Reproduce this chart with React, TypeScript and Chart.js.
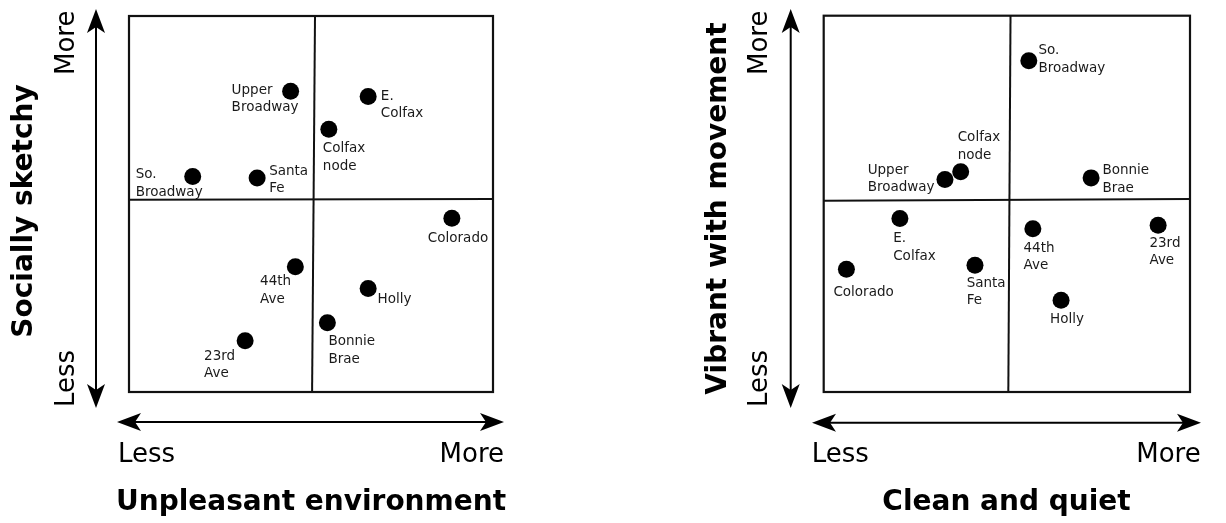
import React, { useEffect, useRef } from "react";
import { Chart, registerables } from "chart.js";

Chart.register(...registerables);

// ---------- data ----------
const endLabels = ["Less", "More"];

const leftXTitle = "Unpleasant environment";
const leftYTitle = "Socially sketchy";
const leftNames = [
  "Upper\nBroadway",
  "E.\nColfax",
  "Colfax\nnode",
  "So.\nBroadway",
  "Santa\nFe",
  "Colorado",
  "44th\nAve",
  "Holly",
  "Bonnie\nBrae",
  "23rd\nAve",
];
const leftX = [4.44, 6.57, 5.49, 1.75, 3.52, 8.87, 4.57, 6.57, 5.45, 3.19];
const leftY = [8.0, 7.86, 6.99, 5.73, 5.69, 4.62, 3.33, 2.75, 1.84, 1.36];
const leftVDivX = [5.11, 5.03];
const leftHDivY = [5.11, 5.13];

const rightXTitle = "Clean and quiet";
const rightYTitle = "Vibrant with movement";
const rightNames = [
  "So.\nBroadway",
  "Colfax\nnode",
  "Upper\nBroadway",
  "Bonnie\nBrae",
  "E.\nColfax",
  "44th\nAve",
  "23rd\nAve",
  "Colorado",
  "Santa\nFe",
  "Holly",
];
const rightX = [5.6, 3.74, 3.31, 7.3, 2.08, 5.71, 9.13, 0.62, 4.13, 6.48];
const rightY = [8.8, 5.85, 5.65, 5.69, 4.61, 4.34, 4.43, 3.26, 3.37, 2.44];
const rightVDivX = [5.1, 5.04];
const rightHDivY = [5.08, 5.13];

// ---------- styling / placement ----------
const leftLabelOffsets = [
  [-59, -1],
  [12.7, 0],
  [-6, 19.7],
  [-57, -1.7],
  [12, -6.7],
  [-24, 20],
  [-35.3, 15],
  [9.4, 10.6],
  [1, 19],
  [-41, 15.3],
];
const rightLabelOffsets = [
  [9.6, -10],
  [-3, -34],
  [-77.3, -9.3],
  [11.3, -7.3],
  [-6.7, 20],
  [-9.4, 19.6],
  [-8.7, 18],
  [-13, 23],
  [-8.3, 18.3],
  [-11, 19],
];

const FONT = "'DejaVu Sans', Verdana, sans-serif";

type PanelLayout = {
  canvasLeft: number;
  padding: { left: number; top: number; right: number; bottom: number };
  vArrowX: number;
  vArrowTop: number;
  vArrowBottom: number;
  hArrowY: number;
  hArrowLeft: number;
  hArrowRight: number;
  rotLabelBaseX: number;
  rotMoreStartY: number;
  rotLessStartY: number;
  lessLeftX: number;
  moreRightX: number;
  endBaseY: number;
  xTitleX: number;
  xTitleBaseY: number;
  yTitleBaseX: number;
  yTitleY: number;
};

const leftLayout: PanelLayout = {
  canvasLeft: 0,
  padding: { left: 129, top: 16, right: 120, bottom: 131 },
  vArrowX: 96,
  vArrowTop: 9,
  vArrowBottom: 408,
  hArrowY: 422,
  hArrowLeft: 117,
  hArrowRight: 504,
  rotLabelBaseX: 74,
  rotMoreStartY: 75,
  rotLessStartY: 407,
  lessLeftX: 118,
  moreRightX: 504,
  endBaseY: 462,
  xTitleX: 311,
  xTitleBaseY: 510,
  yTitleBaseX: 32,
  yTitleY: 211,
};

const rightLayout: PanelLayout = {
  canvasLeft: 613,
  padding: { left: 210.7, top: 15.7, right: 36, bottom: 131 },
  vArrowX: 177.7,
  vArrowTop: 9,
  vArrowBottom: 408,
  hArrowY: 422.7,
  hArrowLeft: 199,
  hArrowRight: 588,
  rotLabelBaseX: 154,
  rotMoreStartY: 75,
  rotLessStartY: 407,
  lessLeftX: 198.7,
  moreRightX: 587.7,
  endBaseY: 462,
  xTitleX: 393.5,
  xTitleBaseY: 510,
  yTitleBaseX: 113,
  yTitleY: 208.5,
};

function arrowHead(
  ctx: CanvasRenderingContext2D,
  tx: number,
  ty: number,
  dx: number,
  dy: number
) {
  const len = 24;
  const halfW = 9;
  const notch = 6;
  const bx = tx - dx * len;
  const by = ty - dy * len;
  const px = -dy;
  const py = dx;
  ctx.beginPath();
  ctx.moveTo(tx, ty);
  ctx.lineTo(bx + px * halfW, by + py * halfW);
  ctx.lineTo(tx - dx * (len - notch), ty - dy * (len - notch));
  ctx.lineTo(bx - px * halfW, by - py * halfW);
  ctx.closePath();
  ctx.fill();
}

function makeDecor(
  layout: PanelLayout,
  names: string[],
  offsets: number[][],
  xTitle: string,
  yTitle: string
) {
  return {
    id: "quadDecor",
    beforeDatasetsDraw(chart: any) {
      const ctx: CanvasRenderingContext2D = chart.ctx;
      const a = chart.chartArea;
      ctx.save();
      ctx.strokeStyle = "#111";
      ctx.lineWidth = 2.2;
      ctx.strokeRect(a.left, a.top, a.right - a.left, a.bottom - a.top);
      ctx.restore();
    },
    afterDatasetsDraw(chart: any) {
      const ctx: CanvasRenderingContext2D = chart.ctx;
      ctx.save();
      // point labels
      ctx.fillStyle = "#1a1a1a";
      ctx.font = `13.5px ${FONT}`;
      ctx.textAlign = "left";
      ctx.textBaseline = "middle";
      const meta = chart.getDatasetMeta(0);
      meta.data.forEach((el: any, i: number) => {
        const lines = names[i].split("\n");
        const [ox, oy] = offsets[i];
        lines.forEach((ln, k) => {
          ctx.fillText(ln, el.x + ox, el.y + oy + k * 17.5);
        });
      });

      // arrows
      ctx.strokeStyle = "#000";
      ctx.fillStyle = "#000";
      ctx.lineWidth = 2;
      ctx.beginPath();
      ctx.moveTo(layout.vArrowX, layout.vArrowTop + 18);
      ctx.lineTo(layout.vArrowX, layout.vArrowBottom - 18);
      ctx.stroke();
      arrowHead(ctx, layout.vArrowX, layout.vArrowTop, 0, -1);
      arrowHead(ctx, layout.vArrowX, layout.vArrowBottom, 0, 1);
      ctx.beginPath();
      ctx.moveTo(layout.hArrowLeft + 18, layout.hArrowY);
      ctx.lineTo(layout.hArrowRight - 18, layout.hArrowY);
      ctx.stroke();
      arrowHead(ctx, layout.hArrowLeft, layout.hArrowY, -1, 0);
      arrowHead(ctx, layout.hArrowRight, layout.hArrowY, 1, 0);

      // end labels
      ctx.fillStyle = "#000";
      ctx.font = `26px ${FONT}`;
      ctx.textBaseline = "alphabetic";
      ctx.textAlign = "left";
      ctx.fillText(endLabels[0], layout.lessLeftX, layout.endBaseY);
      ctx.textAlign = "right";
      ctx.fillText(endLabels[1], layout.moreRightX, layout.endBaseY);

      ctx.save();
      ctx.translate(layout.rotLabelBaseX, layout.rotMoreStartY);
      ctx.rotate(-Math.PI / 2);
      ctx.textAlign = "left";
      ctx.fillText(endLabels[1], 0, 0);
      ctx.restore();
      ctx.save();
      ctx.translate(layout.rotLabelBaseX, layout.rotLessStartY);
      ctx.rotate(-Math.PI / 2);
      ctx.textAlign = "left";
      ctx.fillText(endLabels[0], 0, 0);
      ctx.restore();

      // titles
      ctx.font = `bold 28px ${FONT}`;
      ctx.textAlign = "center";
      ctx.fillText(xTitle, layout.xTitleX, layout.xTitleBaseY);
      ctx.save();
      ctx.translate(layout.yTitleBaseX, layout.yTitleY);
      ctx.rotate(-Math.PI / 2);
      ctx.textAlign = "center";
      ctx.fillText(yTitle, 0, 0);
      ctx.restore();

      ctx.restore();
    },
  };
}

type PanelProps = {
  layout: PanelLayout;
  xs: number[];
  ys: number[];
  names: string[];
  offsets: number[][];
  vDivX: number[];
  hDivY: number[];
  xTitle: string;
  yTitle: string;
};

function Panel(props: PanelProps) {
  const ref = useRef<HTMLCanvasElement | null>(null);
  useEffect(() => {
    if (!ref.current) return;
    const { layout, xs, ys, names, offsets, vDivX, hDivY, xTitle, yTitle } = props;
    const points = xs.map((x, i) => ({ x, y: ys[i] }));
    const chart = new Chart(ref.current, {
      type: "scatter",
      data: {
        datasets: [
          {
            data: points,
            pointRadius: 8.5,
            pointHoverRadius: 8.5,
            backgroundColor: "#000",
            borderColor: "#000",
            borderWidth: 0,
            clip: false,
          } as any,
          {
            type: "line",
            data: [
              { x: vDivX[0], y: 10 },
              { x: vDivX[1], y: 0 },
            ],
            borderColor: "#111",
            borderWidth: 2,
            pointRadius: 0,
            showLine: true,
            fill: false,
            clip: false,
          } as any,
          {
            type: "line",
            data: [
              { x: 0, y: hDivY[0] },
              { x: 10, y: hDivY[1] },
            ],
            borderColor: "#111",
            borderWidth: 2,
            pointRadius: 0,
            showLine: true,
            fill: false,
            clip: false,
          } as any,
        ],
      },
      options: {
        animation: false,
        responsive: false,
        events: [],
        layout: { padding: layout.padding, autoPadding: false } as any,
        scales: {
          x: { type: "linear", min: 0, max: 10, display: false },
          y: { type: "linear", min: 0, max: 10, display: false },
        },
        plugins: {
          legend: { display: false },
          tooltip: { enabled: false },
        },
      },
      plugins: [makeDecor(layout, names, offsets, xTitle, yTitle) as any],
    });
    return () => chart.destroy();
  }, []);
  return (
    <canvas
      ref={ref}
      width={613}
      height={523}
      style={{ position: "absolute", left: props.layout.canvasLeft, top: 0, width: 613, height: 523 }}
    />
  );
}

export default function App() {
  return (
    <div
      style={{
        position: "fixed",
        left: 0,
        top: 0,
        width: 1226,
        height: 523,
        background: "#fff",
        overflow: "hidden",
      }}
    >
      <Panel
        layout={leftLayout}
        xs={leftX}
        ys={leftY}
        names={leftNames}
        offsets={leftLabelOffsets}
        vDivX={leftVDivX}
        hDivY={leftHDivY}
        xTitle={leftXTitle}
        yTitle={leftYTitle}
      />
      <Panel
        layout={rightLayout}
        xs={rightX}
        ys={rightY}
        names={rightNames}
        offsets={rightLabelOffsets}
        vDivX={rightVDivX}
        hDivY={rightHDivY}
        xTitle={rightXTitle}
        yTitle={rightYTitle}
      />
    </div>
  );
}
